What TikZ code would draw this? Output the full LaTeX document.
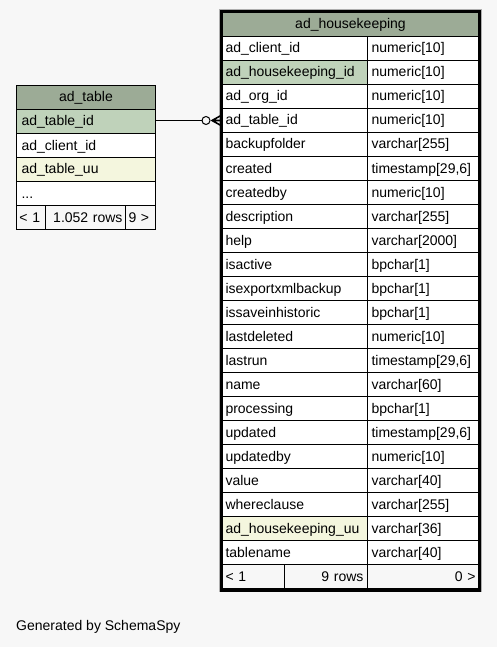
\documentclass[tikz,border=0pt]{standalone}
\usepackage{fontspec}
\setmainfont{Liberation Sans}
\definecolor{bg}{RGB}{247,247,247}
\definecolor{hdr}{RGB}{156,171,150}
\definecolor{pk}{RGB}{191,210,186}
\definecolor{idx}{RGB}{244,246,222}
\definecolor{outline}{RGB}{175,175,175}
\tikzset{
  cellfont/.style={font=\fontsize{14}{16}\selectfont},
  cell/.style={draw=black, line width=1pt, anchor=north west, minimum height=24pt,
    inner ysep=0pt, inner xsep=5pt, align=left, cellfont, text height=11pt, text depth=2pt},
  hcell/.style={cell, align=center, fill=hdr},
  fcell/.style={cell, fill=bg},
  rcell/.style={cell, align=right},
}
\begin{document}
\begin{tikzpicture}[x=1pt,y=-1pt]
\fill[bg] (0,0) rectangle (497,647);
\useasboundingbox (0,0) rectangle (497,647);

% ---------- ad_table ----------
\node[hcell, text width=129pt] (t1h) at (16,85) {ad\_table};
\node[cell, fill=pk, text width=129pt] (t1r1) at (16,109) {ad\_table\_id};
\node[cell, fill=white, text width=129pt] (t1r2) at (16,133) {ad\_client\_id};
\node[cell, fill=idx, text width=129pt] (t1r3) at (16,157) {ad\_table\_uu};
\node[cell, fill=white, text width=129pt] (t1r4) at (16,181) {...};
\node[fcell, text width=23pt, inner xsep=3pt] (t1f1) at (16,205) {< 1};
\node[fcell, rcell, text width=74pt, inner xsep=3pt] (t1f2) at (45,205) {1.052 rows};
\node[fcell, text width=24pt, inner xsep=3pt] (t1f3) at (125,205) {9 >};

% ---------- ad_housekeeping ----------
\node[hcell, text width=248pt] (t2h) at (221,12) {ad\_housekeeping};
\foreach \n/\t/\f [count=\i] in {
  ad\_client\_id/numeric[10]/white,
  ad\_housekeeping\_id/numeric[10]/pk,
  ad\_org\_id/numeric[10]/white,
  ad\_table\_id/numeric[10]/white,
  backupfolder/varchar[255]/white,
  created/{timestamp[29,6]}/white,
  createdby/numeric[10]/white,
  description/varchar[255]/white,
  help/varchar[2000]/white,
  isactive/bpchar[1]/white,
  isexportxmlbackup/bpchar[1]/white,
  issaveinhistoric/bpchar[1]/white,
  lastdeleted/numeric[10]/white,
  lastrun/{timestamp[29,6]}/white,
  name/varchar[60]/white,
  processing/bpchar[1]/white,
  updated/{timestamp[29,6]}/white,
  updatedby/numeric[10]/white,
  value/varchar[40]/white,
  whereclause/varchar[255]/white,
  ad\_housekeeping\_uu/varchar[36]/idx,
  tablename/varchar[40]/white}{
  \node[cell, fill=\f, text width=138pt, inner xsep=4pt] (t2n\i) at (221,{12+24*\i}) {\n};
  \node[cell, fill=white, text width=104pt, inner xsep=4pt] (t2t\i) at (367,{12+24*\i}) {\t};
}
\node[fcell, text width=55pt, inner xsep=4pt] (t2f1) at (221,564) {< 1};
\node[fcell, rcell, text width=75pt, inner xsep=4pt] (t2f2) at (284,564) {9 rows};
\node[fcell, rcell, text width=104pt, inner xsep=4pt] (t2f3) at (367,564) {0 >};
\draw[outline, line width=1pt] (219.5,10) rectangle (481,591.5);
\draw[black, line width=3pt] (221.5,12) rectangle (479,590);

% ---------- relationship ----------
\node[circle, draw=black, fill=bg, line width=1pt, minimum size=8pt, inner sep=0pt] (zc) at (206,120.5) {};
\coordinate (cft) at (212,120.5);
\draw[line width=1pt] (t1r1.east |- zc) -- (zc.west);
\draw[line width=1pt] (zc.east) -- (t2n4.west |- zc);
\draw[line width=1.6pt] (cft) -- ([yshift=5pt]t2n4.west |- zc)
  (cft) -- ([yshift=-5pt]t2n4.west |- zc)
  (cft) -- (t2n4.west |- zc);

\node[anchor=west, cellfont, inner sep=0pt] (gen) at (16,627) {Generated by SchemaSpy};
\end{tikzpicture}
\end{document}
